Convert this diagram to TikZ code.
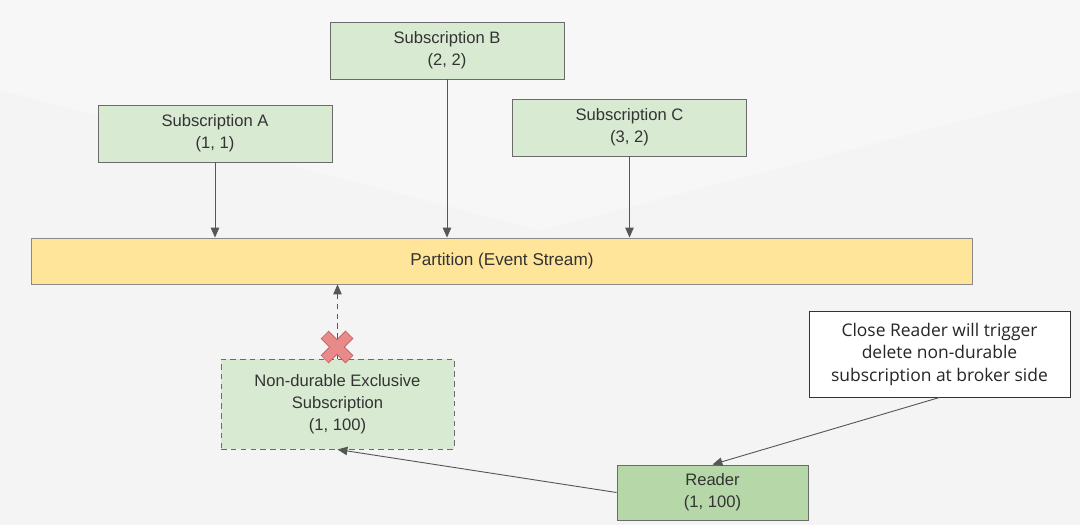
\documentclass[tikz,border=0pt]{standalone}
\usepackage{fontspec}
\setmainfont{Liberation Sans}
\newfontfamily\notefont{Open Sans}
\usepackage{tikz}
\usetikzlibrary{arrows.meta}
\usetikzlibrary{calc}

\definecolor{subgreen}{HTML}{D9EAD3}
\definecolor{readgreen}{HTML}{B6D7A8}
\definecolor{partyellow}{HTML}{FFE599}
\definecolor{boxline}{HTML}{6B6B6B}
\definecolor{crossred}{HTML}{E88A8A}
\definecolor{crossline}{HTML}{C05A5A}
\definecolor{bggray}{HTML}{F4F4F4}
\definecolor{textgray}{HTML}{333333}

\begin{document}
\begin{tikzpicture}[x=0.025cm, y=-0.025cm, line width=0.65pt,
	subbox/.style={draw=boxline, fill=subgreen, text=textgray, minimum width=5.85cm, minimum height=1.425cm, align=center, font=\fontsize{11.8}{15.5}\selectfont, inner sep=0pt},
	arr/.style={color=boxline!80!black, -{Triangle[width=6pt,length=7pt]}}]
	% background
	\fill[bggray] (0,0) rectangle (1080,525);
	\fill[white, opacity=0.35] (0,0) -- (1080,0) -- (1080,90) -- (540,230) -- (0,90) -- cycle;
	\useasboundingbox (0,0) rectangle (1080,525);

	\node[subbox] (subA) at (215,133.5) {Subscription A\\(1, 1)};
	\node[subbox] (subB) at (447,50.5) {Subscription B\\(2, 2)};
	\node[subbox] (subC) at (629.5,127.5) {Subscription C\\(3, 2)};
	\node[draw=boxline!80, fill=partyellow, text=textgray, minimum width=23.5cm, minimum height=1.15cm, inner sep=0pt, font=\fontsize{12.2}{15.5}\selectfont] (part) at (502,261) {Partition (Event Stream)};
	\node[subbox, dash pattern=on 4pt off 3pt, minimum width=5.825cm, minimum height=2.25cm] (nondur) at (337.5,404) {Non-durable Exclusive\\Subscription\\(1, 100)};
	\node[draw=black!80, fill=white, text=black!85, minimum width=6.525cm, minimum height=2.15cm, inner sep=0pt, align=center, font=\notefont\fontsize{12.4}{16}\selectfont] (note) at (939.5,354) {Close Reader will trigger\\delete non-durable\\subscription at broker side};
	\node[subbox, fill=readgreen, minimum width=4.775cm, minimum height=1.375cm] (reader) at (712.5,492.5) {Reader\\(1, 100)};

	\path[arr]
	(subA.south) edge (subA.south |- part.north)
	(subB.south) edge (subB.south |- part.north)
	(subC.south) edge (subC.south |- part.north)
	(note.south) edge (reader.north)
	(reader.west) edge (nondur.south)
	;
	\path[arr, dash pattern=on 4pt off 3pt]
	(nondur.north) edge (nondur.north |- part.south)
	;

	% cross
	\coordinate (x) at (337,347);
	\foreach \a in {45,135} {
		\draw[crossline, line width=8pt] ($(x)+(\a:17.5)$) -- ($(x)+(\a+180:17.5)$);
	}
	\foreach \a in {45,135} {
		\draw[crossred, line width=6.6pt] ($(x)+(\a:16.8)$) -- ($(x)+(\a+180:16.8)$);
	}
\end{tikzpicture}
\end{document}
